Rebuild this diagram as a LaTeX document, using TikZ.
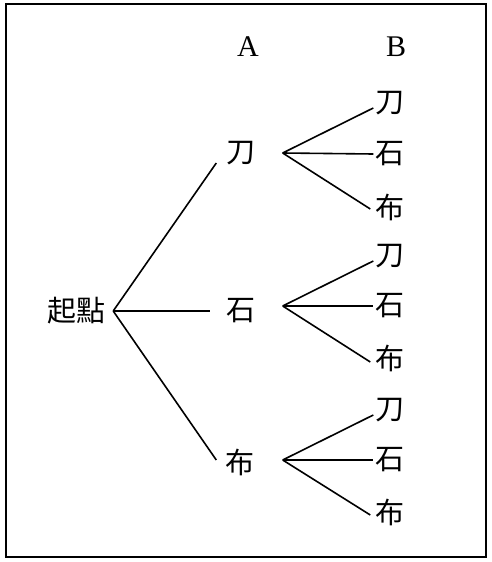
\documentclass[tikz,border=0pt]{standalone}
\usepackage{fontspec}
\setmainfont{Liberation Serif}
\newfontfamily\cjk{Noto Sans CJK TC}
\usetikzlibrary{positioning}
\tikzset{
	hanzi/.style={font=\cjk\fontsize{29}{29}\selectfont, inner sep=0pt},
	head/.style ={font=\fontsize{30}{30}\selectfont, inner sep=0pt},
	branch/.style={line width=1.6pt},
}

\begin{document}
\begin{tikzpicture}[x=1pt, y=-1pt]
	\useasboundingbox (0,0) rectangle (492,562);
	\draw[line width=2.4pt] (6,4) rectangle (486,557);
	% column heads
	\node[head] (colA) at (248,47) {A};
	\node[head] (colB) at (396,47) {B};
	% start and first draw
	\node[hanzi] (root) at (76,311) {起點};
	\node[hanzi] (a1) at (241,153) {刀};
	\node[hanzi] (a2) at (241,311) {石};
	\node[hanzi] (a3) at (240,462) {布};
	% second draw
	\node[hanzi] (b11) at (390,103) {刀};
	\node[hanzi] (b12) at (390,154) {石};
	\node[hanzi] (b13) at (390,207) {布};
	\node[hanzi] (b21) at (390,256) {刀};
	\node[hanzi] (b22) at (390,306) {石};
	\node[hanzi] (b23) at (390,358) {布};
	\node[hanzi] (b31) at (390,410) {刀};
	\node[hanzi] (b32) at (390,460) {石};
	\node[hanzi] (b33) at (390,512) {布};
	\coordinate (v0) at ([xshift=8]root.east);
	\coordinate (v1) at ([xshift=27]a1.east);
	\coordinate (v2) at ([shift={(27,-5)}]a2.east);
	\coordinate (v3) at ([shift={(28,-2)}]a3.east);
	\draw[branch] (v0) -- ([shift={(-10,10)}]a1.west);
	\draw[branch] (v0) -- ([xshift=-16]a2.west);
	\draw[branch] (v0) -- ([shift={(-9,-2)}]a3.west);
	\draw[branch] (v1) -- ([shift={(-2,5)}]b11.west);
	\draw[branch] (v1) -- ([xshift=-2]b12.west);
	\draw[branch] (v1) -- ([shift={(-5,2)}]b13.west);
	\draw[branch] (v2) -- ([shift={(-2,5)}]b21.west);
	\draw[branch] (v2) -- ([xshift=-2]b22.west);
	\draw[branch] (v2) -- ([shift={(-5,4)}]b23.west);
	\draw[branch] (v3) -- ([shift={(-2,5)}]b31.west);
	\draw[branch] (v3) -- ([xshift=-2]b32.west);
	\draw[branch] (v3) -- ([shift={(-5,3)}]b33.west);
\end{tikzpicture}
\end{document}
